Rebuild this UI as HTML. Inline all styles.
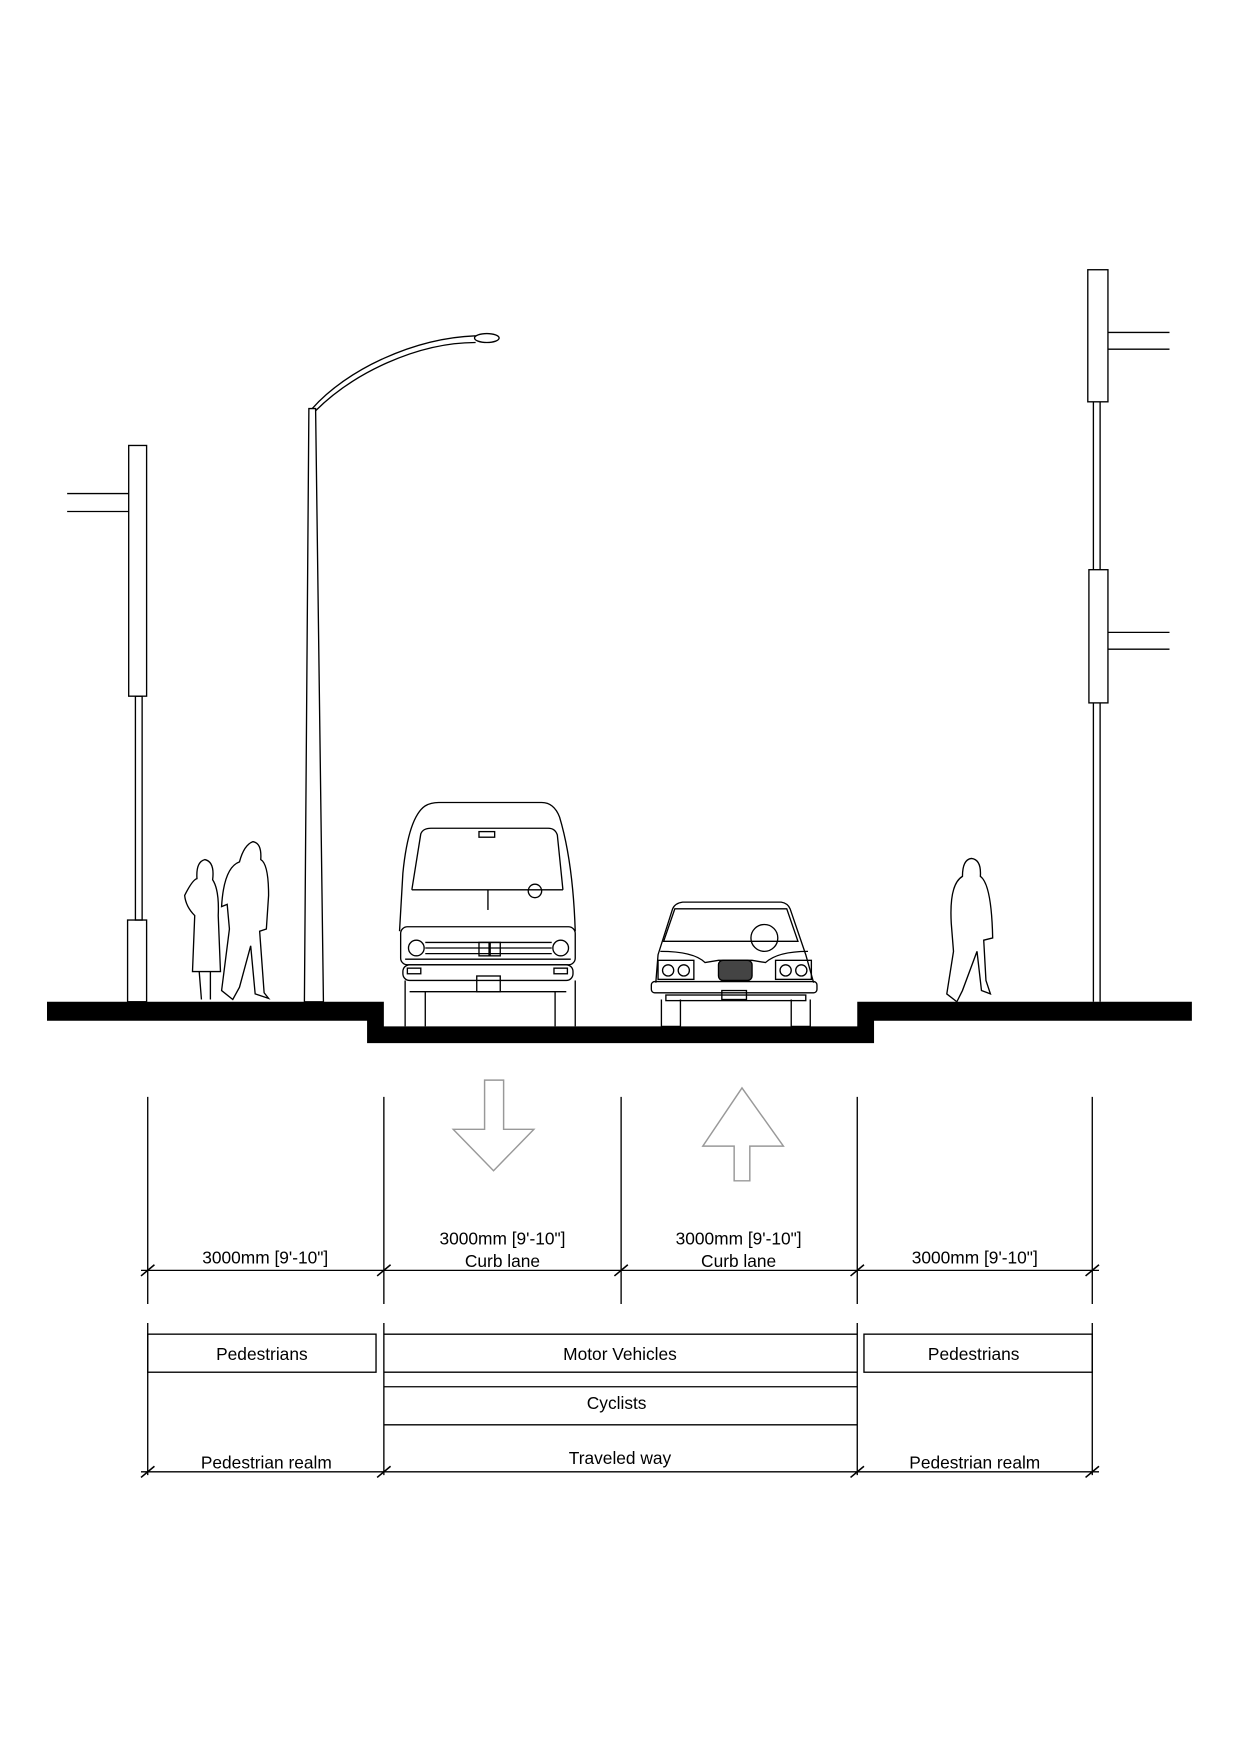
<!DOCTYPE html>
<html><head><meta charset="utf-8"><style>html,body{margin:0;padding:0;background:#fff}svg{display:block}</style></head><body>
<svg width="1240" height="1755" viewBox="0 0 1108 1568" preserveAspectRatio="none" xmlns="http://www.w3.org/2000/svg" font-family="Liberation Sans, Arial, sans-serif">
<rect width="1108" height="1568" fill="#fff"/>
<g fill="none" stroke="#000" stroke-width="1.2">
<rect x="115" y="398" width="16" height="224"/>
<rect x="121" y="622" width="6" height="200"/>
<rect x="114" y="822" width="17" height="73"/>
<line x1="60" y1="441" x2="115" y2="441"/><line x1="60" y1="457" x2="115" y2="457"/>
<polygon points="276,365 282,365 289,895 272,895"/>
<path d="M279,365 C310,330 370,302 425,300"/>
<path d="M282,367 C315,334 372,306 425,306"/>
<ellipse cx="435" cy="302" rx="11" ry="4"/>
<rect x="972" y="241" width="18" height="118"/>
<rect x="973" y="509" width="17" height="119"/>
<line x1="977" y1="359" x2="977" y2="509"/><line x1="983" y1="359" x2="983" y2="509"/>
<line x1="977" y1="628" x2="977" y2="895"/><line x1="983" y1="628" x2="983" y2="895"/>
<line x1="990" y1="297" x2="1045" y2="297"/><line x1="990" y1="312" x2="1045" y2="312"/>
<line x1="990" y1="565" x2="1045" y2="565"/><line x1="990" y1="580" x2="1045" y2="580"/>
<path d="M357,832 L360,780 Q365,730 380,720 Q385,717 392,717 L484,717 Q495,717 500,730 Q512,770 514,832"/>
<path d="M368,795 L376,745 Q378,740 385,740 L490,740 Q496,740 498,746 L503,795"/>
<line x1="368" y1="795" x2="503" y2="795"/>
<line x1="436" y1="795" x2="436" y2="813"/>
<rect x="428" y="743" width="14" height="5"/>
<circle cx="478" cy="796" r="6"/>
<rect x="358" y="828" width="156" height="34" rx="6"/>
<circle cx="372" cy="847" r="7"/><circle cx="501" cy="847" r="7"/>
<line x1="380" y1="842" x2="493" y2="842"/><line x1="380" y1="847" x2="493" y2="847"/><line x1="380" y1="852" x2="493" y2="852"/>
<line x1="362" y1="857" x2="510" y2="857"/>
<rect x="428" y="842" width="9" height="12"/><rect x="438" y="842" width="9" height="12"/>
<rect x="360" y="862" width="152" height="14" rx="6"/>
<rect x="426" y="872" width="21" height="14"/>
<rect x="364" y="865" width="12" height="5"/><rect x="495" y="865" width="12" height="5"/>
<line x1="366" y1="886" x2="506" y2="886"/>
<line x1="362" y1="876" x2="362" y2="917"/><line x1="380" y1="886" x2="380" y2="917"/>
<line x1="496" y1="886" x2="496" y2="917"/><line x1="514" y1="876" x2="514" y2="917"/>
<path d="M586,878 L588,853 L601,812 Q603,807 610,806 L698,806 Q704,807 706,812 L720,853 L727,878"/>
<path d="M593,841 L603,812 L703,812 L713,841 Z"/>
<circle cx="683" cy="838" r="12"/>
<path d="M590,850 Q620,850 630,860 L642,858 L672,858 L684,860 Q695,850 722,850"/>
<rect x="642" y="858" width="30" height="18" rx="4" fill="#444"/>
<rect x="588" y="858" width="32" height="17"/><rect x="693" y="858" width="32" height="17"/>
<circle cx="597" cy="867" r="5"/><circle cx="611" cy="867" r="5"/><circle cx="702" cy="867" r="5"/><circle cx="716" cy="867" r="5"/>
<rect x="582" y="877" width="148" height="10" rx="3"/>
<rect x="595" y="889" width="125" height="5"/>
<rect x="645" y="885" width="22" height="8"/>
<path d="M591,893 L591,917 L608,917 L608,893"/><path d="M707,893 L707,917 L724,917 L724,893"/>
<path d="M183,768 Q192,770 190,786 Q196,795 195,818 L197,868 L172,868 L174,818 Q166,810 165,800 Q172,786 176,785 Q175,770 183,768 Z"/>
<path d="M178,868 L180,893 M188,868 L188,893"/>
<path d="M226,752 Q234,753 233,768 Q240,772 240,800 L238,830 L232,832 L236,887 L240,892 L228,888 L224,845 L214,882 L208,893 L198,885 L205,830 L203,808 L198,810 Q200,775 214,770 Q218,755 226,752 Z"/>
<path d="M868,767 Q877,768 876,783 Q886,790 887,838 L879,840 L881,876 L885,888 L877,885 L873,850 L860,885 L855,895 L846,888 L852,850 L850,825 Q848,790 860,783 Q860,768 868,767 Z"/>
</g>
<polygon points="42,895 343,895 343,917 766,917 766,895 1065,895 1065,912 781,912 781,932 328,932 328,912 42,912" fill="#000"/>
<g fill="none" stroke="#999" stroke-width="1.3">
<polygon points="433,965 450,965 450,1009 477,1009 441,1046 405,1009 433,1009"/>
<polygon points="656,1055 670,1055 670,1024 700,1024 663,972 628,1024 656,1024"/>
</g>
<g stroke="#000" stroke-width="1.2" fill="none">
<line x1="132" y1="980" x2="132" y2="1165"/><line x1="343" y1="980" x2="343" y2="1165"/>
<line x1="555" y1="980" x2="555" y2="1165"/><line x1="766" y1="980" x2="766" y2="1165"/>
<line x1="976" y1="980" x2="976" y2="1165"/>
<line x1="126" y1="1135" x2="982" y2="1135"/>
<g stroke-width="1.4"><line x1="126" y1="1140" x2="138" y2="1130"/><line x1="337" y1="1140" x2="349" y2="1130"/><line x1="549" y1="1140" x2="561" y2="1130"/><line x1="760" y1="1140" x2="772" y2="1130"/><line x1="970" y1="1140" x2="982" y2="1130"/>
<line x1="126" y1="1320" x2="138" y2="1310"/><line x1="337" y1="1320" x2="349" y2="1310"/><line x1="760" y1="1320" x2="772" y2="1310"/><line x1="970" y1="1320" x2="982" y2="1310"/></g>
<line x1="132" y1="1182" x2="132" y2="1318"/><line x1="343" y1="1182" x2="343" y2="1318"/>
<line x1="766" y1="1182" x2="766" y2="1318"/><line x1="976" y1="1182" x2="976" y2="1318"/>
<line x1="126" y1="1315" x2="982" y2="1315"/>
<rect x="132" y="1192" width="204" height="34"/>
<rect x="772" y="1192" width="204" height="34"/>
<line x1="343" y1="1192" x2="766" y2="1192"/><line x1="343" y1="1226" x2="766" y2="1226"/>
<line x1="343" y1="1239" x2="766" y2="1239"/><line x1="343" y1="1273" x2="766" y2="1273"/>
</g>
<g font-size="15.5" text-anchor="middle" fill="#000">
<text x="237" y="1129">3000mm [9'-10"]</text>
<text x="449" y="1112">3000mm [9'-10"]</text><text x="449" y="1132">Curb lane</text>
<text x="660" y="1112">3000mm [9'-10"]</text><text x="660" y="1132">Curb lane</text>
<text x="871" y="1129">3000mm [9'-10"]</text>
<text x="234" y="1215">Pedestrians</text>
<text x="554" y="1215">Motor Vehicles</text>
<text x="870" y="1215">Pedestrians</text>
<text x="551" y="1259">Cyclists</text>
<text x="554" y="1308">Traveled way</text>
<text x="238" y="1312">Pedestrian realm</text>
<text x="871" y="1312">Pedestrian realm</text>
</g>
</svg>
</body></html>
